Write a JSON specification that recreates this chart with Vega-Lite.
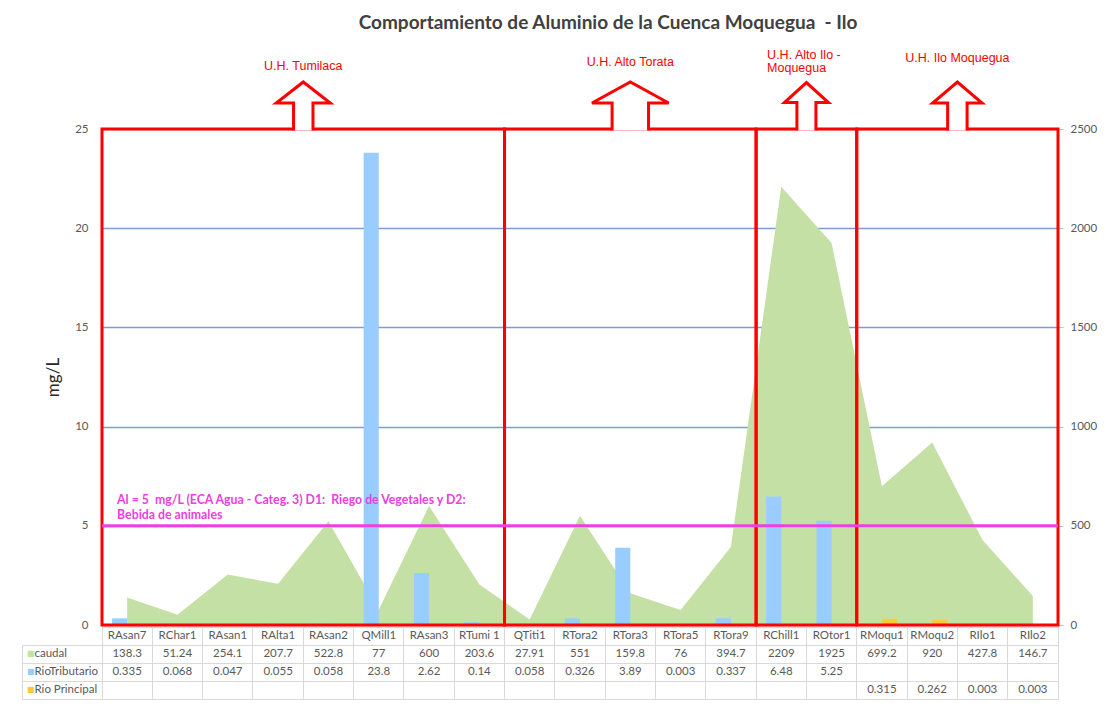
{
  "$schema": "https://vega.github.io/schema/vega-lite/v6.json",
  "padding": {"left": 21, "top": 13, "right": 5, "bottom": 4},
  "background": "#ffffff",
  "datasets": {
    "estaciones": [
      {"estacion": "RAsan7", "caudal": 138.3, "tributario": 0.335, "principal": null},
      {"estacion": "RChar1", "caudal": 51.24, "tributario": 0.068, "principal": null},
      {"estacion": "RAsan1", "caudal": 254.1, "tributario": 0.047, "principal": null},
      {"estacion": "RAlta1", "caudal": 207.7, "tributario": 0.055, "principal": null},
      {"estacion": "RAsan2", "caudal": 522.8, "tributario": 0.058, "principal": null},
      {"estacion": "QMill1", "caudal": 77, "tributario": 23.8, "principal": null},
      {"estacion": "RAsan3", "caudal": 600, "tributario": 2.62, "principal": null},
      {"estacion": "RTumi 1", "caudal": 203.6, "tributario": 0.14, "principal": null},
      {"estacion": "QTiti1", "caudal": 27.91, "tributario": 0.058, "principal": null},
      {"estacion": "RTora2", "caudal": 551, "tributario": 0.326, "principal": null},
      {"estacion": "RTora3", "caudal": 159.8, "tributario": 3.89, "principal": null},
      {"estacion": "RTora5", "caudal": 76, "tributario": 0.003, "principal": null},
      {"estacion": "RTora9", "caudal": 394.7, "tributario": 0.337, "principal": null},
      {"estacion": "RChill1", "caudal": 2209, "tributario": 6.48, "principal": null},
      {"estacion": "ROtor1", "caudal": 1925, "tributario": 5.25, "principal": null},
      {"estacion": "RMoqu1", "caudal": 699.2, "tributario": null, "principal": 0.315},
      {"estacion": "RMoqu2", "caudal": 920, "tributario": null, "principal": 0.262},
      {"estacion": "RIlo1", "caudal": 427.8, "tributario": null, "principal": 0.003},
      {"estacion": "RIlo2", "caudal": 146.7, "tributario": null, "principal": 0.003}
    ],
    "uh": [
      {"uh": "U.H. Tumilaca", "desde": 0, "hasta": 8},
      {"uh": "U.H. Alto Torata", "desde": 8, "hasta": 13},
      {"uh": "U.H. Alto Ilo -\nMoquegua", "desde": 13, "hasta": 15},
      {"uh": "U.H. Ilo Moquegua", "desde": 15, "hasta": 19}
    ]
  },
  "config": {
    "font": "Lato",
    "view": {"stroke": null},
    "axis": {"labelColor": "#595959", "labelFontSize": 11.5, "labelFont": "Lato"}
  },
  "vconcat": [
    {
      "width": 956,
      "height": 496,
      "title": {
        "text": "Comportamiento de Aluminio de la Cuenca Moquegua\u00a0 - Ilo",
        "fontSize": 19,
        "fontWeight": "bold",
        "font": "Lato",
        "color": "#404040",
        "frame": "group",
        "anchor": "middle",
        "dx": 28,
        "offset": 16
      },
      "view": {"stroke": null},
      "resolve": {"scale": {"x": "independent", "y": "independent"}},
      "layer": [
        {
          "data": {"name": "estaciones"},
          "mark": {"type": "area", "color": "#c5e0a5", "opacity": 1},
          "encoding": {
            "x": {
              "field": "estacion", "type": "nominal",
              "scale": {"type": "band", "domain": ["RAsan7","RChar1","RAsan1","RAlta1","RAsan2","QMill1","RAsan3","RTumi 1","QTiti1","RTora2","RTora3","RTora5","RTora9","RChill1","ROtor1","RMoqu1","RMoqu2","RIlo1","RIlo2"], "paddingInner": 0.4, "paddingOuter": 0.2},
              "axis": null
            },
            "y": {
              "field": "caudal", "type": "quantitative", "stack": null,
              "scale": {"domain": [0, 2500], "nice": false},
              "axis": {"orient": "right", "values": [0, 500, 1000, 1500, 2000, 2500], "format": "d", "grid": false, "domain": false, "ticks": true, "tickSize": 5, "tickColor": "#bfbfbf", "labelPadding": 7, "title": null}
            }
          }
        },
        {
          "resolve": {"scale": {"x": "independent"}},
          "layer": [
            {
              "data": {"name": "estaciones"},
              "transform": [
                {"fold": ["tributario", "principal"], "as": ["serie", "valor"]},
                {"filter": "isValid(datum.valor)"}
              ],
              "mark": {"type": "bar"},
              "encoding": {
                "x": {
                  "field": "estacion", "type": "nominal",
                  "scale": {"type": "band", "domain": ["RAsan7","RChar1","RAsan1","RAlta1","RAsan2","QMill1","RAsan3","RTumi 1","QTiti1","RTora2","RTora3","RTora5","RTora9","RChill1","ROtor1","RMoqu1","RMoqu2","RIlo1","RIlo2"], "paddingInner": 0.4, "paddingOuter": 0.2},
                  "axis": null
                },
                "xOffset": {"field": "serie", "type": "nominal", "scale": {"domain": ["tributario", "principal"], "paddingInner": 0, "paddingOuter": 0}},
                "y": {
                  "field": "valor", "type": "quantitative", "stack": null,
                  "scale": {"domain": [0, 25], "nice": false},
                  "axis": {"orient": "left", "values": [0, 5, 10, 15, 20, 25], "grid": true, "gridColor": "#7e9ccf", "gridWidth": 1.3, "domain": false, "ticks": false, "labelPadding": 14, "title": "mg/L", "titleFontSize": 17, "titleFontWeight": "normal", "titleColor": "#262626", "titlePadding": 12, "titleFont": "Lato"}
                },
                "color": {"field": "serie", "type": "nominal", "scale": {"domain": ["tributario", "principal"], "range": ["#99ccff", "#ffc83a"]}, "legend": null}
              }
            },
            {
              "data": {"name": "uh"},
              "transform": [{"calculate": "(datum.desde + datum.hasta) / 2", "as": "centro"}],
              "layer": [
                {
                  "mark": {"type": "rect", "filled": false, "stroke": "#ff0000", "strokeWidth": 3},
                  "encoding": {
                    "x": {"field": "desde", "type": "quantitative", "scale": {"domain": [0, 19], "nice": false, "zero": false}, "axis": null},
                    "x2": {"field": "hasta"},
                    "y": {"datum": 0, "type": "quantitative"},
                    "y2": {"datum": 25}
                  }
                },
                {
                  "mark": {"type": "point", "filled": true, "fill": "#ffffff", "stroke": "#ff0000", "strokeWidth": 3, "size": 2916, "opacity": 1, "strokeJoin": "miter"},
                  "encoding": {
                    "x": {"field": "centro", "type": "quantitative"},
                    "y": {"datum": 25, "type": "quantitative"},
                    "shape": {
                      "field": "uh", "type": "nominal", "legend": null,
                      "scale": {
                        "domain": ["U.H. Tumilaca", "U.H. Alto Torata", "U.H. Alto Ilo -\nMoquegua", "U.H. Ilo Moquegua"],
                        "range": [
                          "M-0.36,0.06L-0.36,-0.963L-1,-0.963L0,-1.74L1,-0.963L0.36,-0.963L0.36,0.06",
                          "M-0.675,0.06L-0.675,-0.963L-1.42,-0.963L0,-1.74L1.42,-0.963L0.675,-0.963L0.675,0.06",
                          "M-0.352,0.06L-0.352,-0.978L-0.815,-0.978L0,-1.72L0.815,-0.978L0.352,-0.978L0.352,0.06",
                          "M-0.36,0.06L-0.36,-0.963L-0.915,-0.963L0,-1.74L0.915,-0.963L0.36,-0.963L0.36,0.06"
                        ]
                      }
                    }
                  }
                },
                {
                  "transform": [{"filter": "indexof(datum.uh, 'Alto Ilo') < 0"}],
                  "mark": {"type": "text", "color": "#ff0000", "font": "Liberation Sans", "fontSize": 12.5, "baseline": "middle",
                    "dy": {"expr": "datum.uh == 'U.H. Tumilaca' ? -63 : datum.uh == 'U.H. Alto Torata' ? -67 : -71.5"}},
                  "encoding": {
                    "x": {"field": "centro", "type": "quantitative"},
                    "y": {"datum": 25, "type": "quantitative"},
                    "text": {"field": "uh"}
                  }
                },
                {
                  "transform": [{"filter": "indexof(datum.uh, 'Alto Ilo') >= 0"}],
                  "mark": {"type": "text", "color": "#ff0000", "font": "Liberation Sans", "fontSize": 12.5, "align": "left", "baseline": "middle", "dx": 11, "dy": -74.5, "lineBreak": "\n", "lineHeight": 13.5},
                  "encoding": {
                    "x": {"field": "desde", "type": "quantitative"},
                    "y": {"datum": 25, "type": "quantitative"},
                    "text": {"field": "uh"}
                  }
                }
              ]
            },
            {
              "data": {"values": [{}]},
              "mark": {"type": "rule", "color": "#ec40e0", "strokeWidth": 3},
              "encoding": {"y": {"datum": 5, "type": "quantitative"}}
            },
            {
              "data": {"values": [{}]},
              "mark": {"type": "text", "align": "left", "baseline": "bottom", "dy": -19, "font": "Lato", "fontSize": 12.3, "fontWeight": "bold", "color": "#ec40e0", "lineHeight": 15.5},
              "encoding": {
                "x": {"datum": 0.3, "type": "quantitative", "scale": {"domain": [0, 19], "nice": false, "zero": false}, "axis": null},
                "y": {"datum": 5, "type": "quantitative"},
                "text": {"value": ["Al = 5\u00a0 mg/L (ECA Agua - Categ. 3) D1:\u00a0 Riego de Vegetales y D2:", "Bebida de animales"]}
              }
            }
          ]
        }
      ]
    },
    {
      "width": 956,
      "height": 72,
      "view": {"stroke": "#d9d9d9"},
      "data": {"name": "estaciones"},
      "resolve": {"scale": {"y": "independent"}},
      "layer": [
        {
          "mark": {"type": "text", "font": "Lato", "fontSize": 11.5, "color": "#595959"},
          "encoding": {
            "x": {
              "field": "estacion", "type": "nominal",
              "scale": {"type": "band", "domain": ["RAsan7","RChar1","RAsan1","RAlta1","RAsan2","QMill1","RAsan3","RTumi 1","QTiti1","RTora2","RTora3","RTora5","RTora9","RChill1","ROtor1","RMoqu1","RMoqu2","RIlo1","RIlo2"], "paddingInner": 0, "paddingOuter": 0},
              "axis": {"orient": "bottom", "labels": false, "ticks": false, "domain": false, "grid": true, "gridColor": "#d9d9d9", "bandPosition": 0, "title": null}
            },
            "y": {
              "datum": "hdr", "type": "nominal",
              "scale": {"type": "band", "domain": ["hdr", "caudal", "tributario", "principal"], "paddingInner": 0, "paddingOuter": 0},
              "axis": {"orient": "left", "title": null, "domain": false, "ticks": true, "tickSize": 80, "tickColor": "#d9d9d9", "bandPosition": 1, "grid": true, "gridColor": "#d9d9d9", "labelExpr": "datum.value == 'caudal' ? 'caudal' : datum.value == 'tributario' ? 'RioTributario' : datum.value == 'principal' ? 'Rio Principal' : ''", "labelAlign": "left", "labelPadding": -12, "labelFontSize": 11.5, "labelColor": "#595959", "labelBaseline": "middle"}
            },
            "text": {"field": "estacion", "type": "nominal"}
          }
        },
        {
          "transform": [
            {"fold": ["caudal", "tributario", "principal"], "as": ["serie", "valor"]},
            {"filter": "isValid(datum.valor)"}
          ],
          "mark": {"type": "text", "font": "Lato", "fontSize": 11.5, "color": "#595959"},
          "encoding": {
            "x": {
              "field": "estacion", "type": "nominal",
              "scale": {"type": "band", "domain": ["RAsan7","RChar1","RAsan1","RAlta1","RAsan2","QMill1","RAsan3","RTumi 1","QTiti1","RTora2","RTora3","RTora5","RTora9","RChill1","ROtor1","RMoqu1","RMoqu2","RIlo1","RIlo2"], "paddingInner": 0, "paddingOuter": 0}
            },
            "y": {
              "field": "serie", "type": "nominal",
              "scale": {"type": "band", "domain": ["hdr", "caudal", "tributario", "principal"], "paddingInner": 0, "paddingOuter": 0},
              "axis": {"orient": "left", "offset": 80, "title": null, "ticks": false, "tickSize": 0, "domain": true, "domainColor": "#d9d9d9", "domainDash": [0, 18, 54], "grid": false, "labelExpr": "datum.value == 'hdr' ? '' : '\u25a0'", "labelFont": "DejaVu Sans", "labelFontSize": 8, "labelAlign": "left", "labelPadding": -4.5, "labelBaseline": "middle",
                "labelColor": {"condition": [{"test": "datum.value == 'caudal'", "value": "#c5e0a5"}, {"test": "datum.value == 'tributario'", "value": "#99ccff"}], "value": "#ffc83a"}}
            },
            "text": {"field": "valor", "type": "nominal"}
          }
        }
      ]
    }
  ],
  "spacing": 2,
  "bounds": "flush"
}
